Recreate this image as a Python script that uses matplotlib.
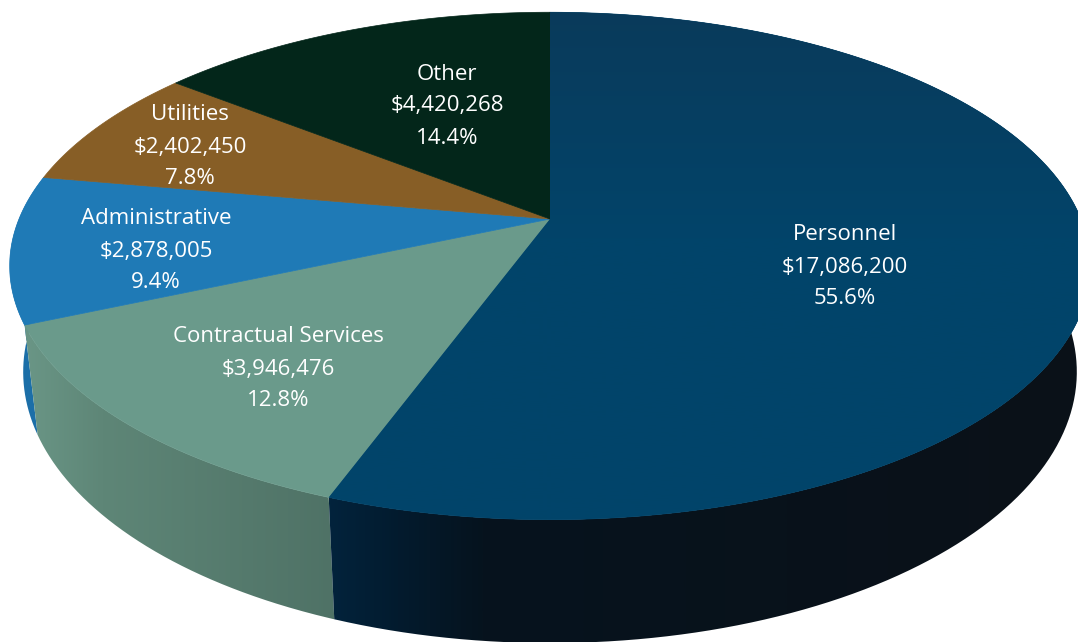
# -*- coding: utf-8 -*-
"""Expenditure pie in tilted 3D view with a perspective rim."""
import numpy as np
import matplotlib; matplotlib.use("Agg")
import matplotlib.pyplot as plt
from matplotlib.colors import LinearSegmentedColormap
from matplotlib.path import Path
from matplotlib.patches import PathPatch

plt.rcParams["font.family"] = ["Open Sans", "DejaVu Sans"]

CATEGORIES = ["Personnel", "Contractual Services", "Administrative", "Utilities", "Other"]
AMOUNTS = [17086200, 3946476, 2878005, 2402450, 4420268]
PERCENTS = [55.6, 12.8, 9.4, 7.8, 14.4]

TOP_COL = ["#02446a", "#6a9a8b", "#1f7ab6", "#875e26", "#03261a"]
# side shading stops, left to right across each slice's wall: (position, colour)
SIDE_STOPS = [
    [(0, "#02233c"), (0.09, "#031b2e"), (0.2, "#06131e"), (1, "#0b1118")],
    [(0, "#6a9686"), (0.25, "#5e8677"), (1, "#4f7266")],
    [(0, "#1c6fa8"), (1, "#1c6fa8")],
    [(0, "#6b4a1e"), (1, "#6b4a1e")],
    [(0, "#021a10"), (1, "#021a10")],
]
LABEL_POS = [(845, 235), (278, 337), (156, 219), (190, 115), (447, 74)]
LINE_H = 32

# perspective of the disc, in pixels
CX, CY = 550, 219
A, B, K = 531, 245, 0.185
DROP, STRETCH, SHRINK = 102.7, 1.069, 0.975


def rim(theta):
    """Top rim point for a clockwise angle from 12 o'clock (radians)."""
    u, v = np.sin(theta), np.cos(theta)
    w = 1 + K * v
    return CX + A * u / w, CY - B * v / w


def low_rim(theta):
    x, y = rim(theta)
    return CX + SHRINK * (x - CX), CY + DROP + STRETCH * (y - CY)


def shaded(verts, stops, extent, horizontal=True, zorder=1):
    """Fill a closed outline with a colour ramp clipped to it."""
    patch = PathPatch(Path(verts), facecolor="none", edgecolor="none", zorder=zorder)
    ax.add_patch(patch)
    cmap = LinearSegmentedColormap.from_list("ramp", stops)
    ramp = np.linspace(0, 1, 512)
    data = ramp[None, :] if horizontal else ramp[:, None]
    im = ax.imshow(data, cmap=cmap, aspect="auto", extent=extent, zorder=zorder)
    im.set_clip_path(patch)


fig = plt.figure(figsize=(10.78, 6.42), dpi=100)
ax = fig.add_axes([0, 0, 1, 1])

edges = np.concatenate([[0], np.cumsum(AMOUNTS)]) / np.sum(AMOUNTS) * 2 * np.pi

# side wall first, top faces go over it
for i in [2, 1, 0]:
    t = np.linspace(edges[i], edges[i + 1], 300)
    xt, yt = rim(t); xb, yb = low_rim(t)
    verts = np.vstack([np.column_stack([xt, yt]), np.column_stack([xb, yb])[::-1], [xt[0], yt[0]]])
    x0, x1 = verts[:, 0].min(), verts[:, 0].max()
    shaded(verts, SIDE_STOPS[i], (x0, x1, 650, 0), zorder=1 + (2 - i) * 0.1)

# top face
for i in range(len(AMOUNTS)):
    t = np.linspace(edges[i], edges[i + 1], 300)
    x, y = rim(t)
    verts = np.vstack([[CX, CY], np.column_stack([x, y]), [CX, CY]])
    ax.add_patch(PathPatch(Path(verts), facecolor=TOP_COL[i], edgecolor=TOP_COL[i], lw=0.5, zorder=2))
    if i == 0:
        # slight vertical shading over the personnel face
        shaded(verts, [(0, "#0a3a5a"), (0.45, "#02446a"), (1, "#01456a")], (0, 1078, 530, 0),
               horizontal=False, zorder=2.1)

for name, amt, pct, (lx, ly) in zip(CATEGORIES, AMOUNTS, PERCENTS, LABEL_POS):
    for k, s in enumerate([name, f"${amt:,}", f"{pct}%"]):
        ax.text(lx, ly + k * LINE_H, s, color="white", fontsize=16, ha="center", va="center", zorder=5)

ax.set_xlim(0, 1078); ax.set_ylim(642, 0); ax.axis("off")
fig.savefig("out.png", dpi=100, facecolor="white")
